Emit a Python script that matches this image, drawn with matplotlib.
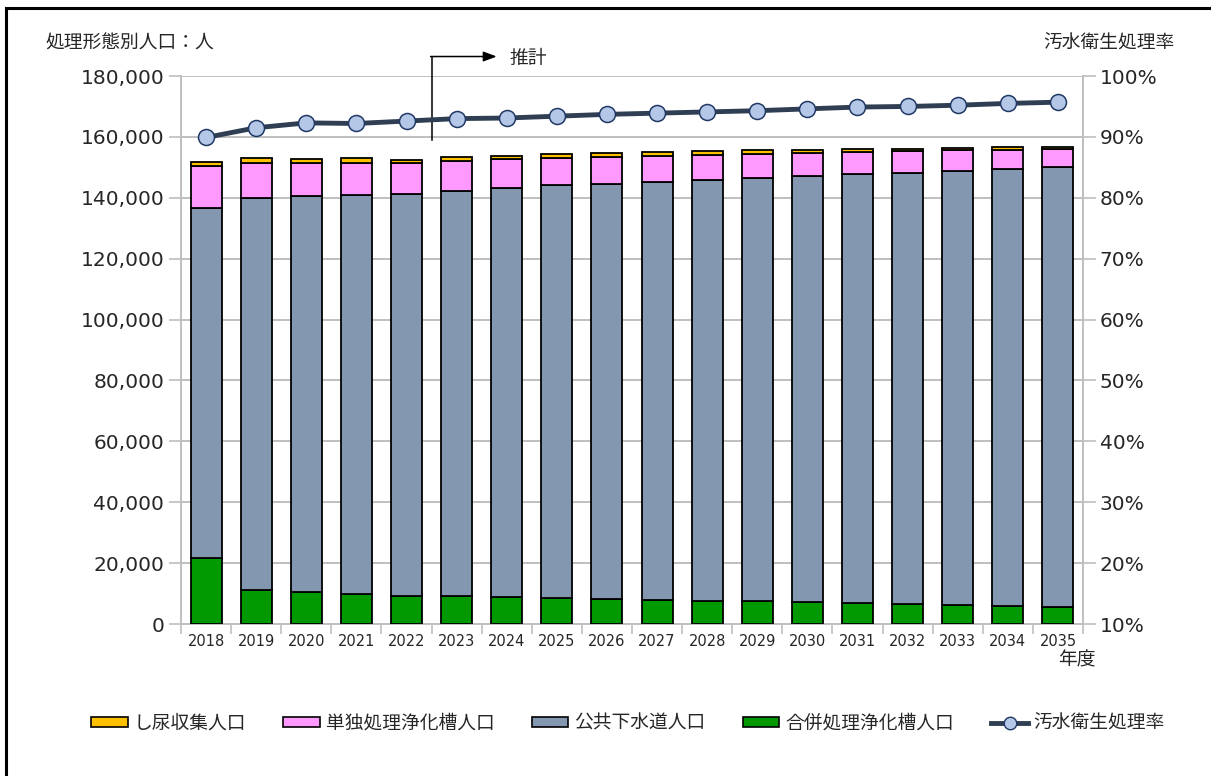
import numpy as np
import matplotlib.pyplot as plt
from matplotlib.patches import Rectangle
from matplotlib.lines import Line2D
from matplotlib.ticker import FuncFormatter

plt.rcParams['font.family'] = ['Noto Sans CJK JP', 'DejaVu Sans']

years = [str(y) for y in range(2018, 2036)]

# 処理形態別人口（人）
gappei = [21600, 11100, 10600, 9850, 9300, 9100, 8850, 8550, 8200, 7900,
          7650, 7450, 7250, 6900, 6550, 6250, 5900, 5600]
gesuido = [114900, 128700, 130000, 131050, 131850, 133150, 134350, 135550, 136400, 137400,
           138200, 139050, 139900, 140800, 141700, 142650, 143650, 144400]
tandoku = [13900, 11500, 10750, 10500, 10200, 9850, 9400, 9050, 8850, 8450,
           8200, 7900, 7550, 7350, 7100, 6700, 6150, 6000]
shinyo = [1450, 1650, 1400, 1550, 1100, 1200, 1100, 1200, 1200, 1200,
          1200, 1200, 1000, 850, 750, 850, 900, 750]

# 汚水衛生処理率（%）
rate = [89.9, 91.5, 92.3, 92.2, 92.6, 93.0, 93.1, 93.4, 93.7, 93.9,
        94.1, 94.3, 94.6, 94.9, 95.0, 95.2, 95.5, 95.7]

c_shinyo = '#FFC000'
c_tandoku = '#FF99FF'
c_gesuido = '#8497B0'
c_gappei = '#009900'
c_line = '#2F3E52'
txt = '#262626'

fig = plt.figure(figsize=(12.11, 7.76), dpi=100)
ax = fig.add_axes([181/1211, 1-624/776, 902/1211, 548/776])

x = np.arange(len(years))
w = 0.62
ekw = dict(edgecolor='black', linewidth=1.3, zorder=3)
b1 = np.array(gappei)
b2 = b1 + np.array(gesuido)
b3 = b2 + np.array(tandoku)
ax.bar(x, gappei, w, color=c_gappei, **ekw)
ax.bar(x, gesuido, w, bottom=b1, color=c_gesuido, **ekw)
ax.bar(x, tandoku, w, bottom=b2, color=c_tandoku, **ekw)
ax.bar(x, shinyo, w, bottom=b3, color=c_shinyo, **ekw)

ax.set_xlim(-0.5, len(years)-0.5)
ax.set_ylim(0, 180000)
ax.set_yticks(np.arange(0, 180001, 20000))
ax.yaxis.set_major_formatter(FuncFormatter(lambda v, p: f'{int(v):,}'))
ax.grid(axis='y', color='#BFBFBF', linewidth=1.4, zorder=0)
ax.set_axisbelow(True)
ax.set_xticks(x)
ax.set_xticklabels(years, fontsize=10.5, color=txt, family='DejaVu Sans')
ax.set_xticks(np.arange(-0.5, len(years), 1), minor=True)
ax.tick_params(axis='x', which='major', length=0, pad=7)
ax.tick_params(axis='x', which='minor', length=7, color='#BFBFBF', width=1.2)
ax.tick_params(axis='y', length=9, color='#BFBFBF', width=1.2, labelsize=14.5,
               labelcolor=txt, pad=3)
for lab in ax.get_yticklabels():
    lab.set_family('DejaVu Sans')
for s in ['left', 'right', 'bottom']:
    ax.spines[s].set_color('#BFBFBF')
    ax.spines[s].set_linewidth(1.4)
ax.spines['top'].set_visible(False)

ax2 = ax.twinx()
ax2.plot(x, rate, color=c_line, linewidth=3.5, marker='o', markersize=11.5,
         markerfacecolor='#B4C7E7', markeredgecolor='#203864', markeredgewidth=1.1,
         zorder=4)
ax2.set_ylim(10, 100)
ax2.set_yticks(np.arange(10, 101, 10))
ax2.yaxis.set_major_formatter(FuncFormatter(lambda v, p: f'{int(v)}%'))
ax2.tick_params(axis='y', length=9, color='#BFBFBF', width=1.2, labelsize=14.5,
                labelcolor=txt, pad=3)
for lab in ax2.get_yticklabels():
    lab.set_family('DejaVu Sans')
for s in ['left', 'right', 'bottom', 'top']:
    ax2.spines[s].set_visible(False)

# 推計の矢印
ax2.plot([4.5, 4.5], [89.5, 103.2], color='black', linewidth=1.1, clip_on=False)
ax2.annotate('', xy=(5.8, 103.2), xytext=(4.48, 103.2),
             arrowprops=dict(arrowstyle='-|>,head_length=0.8,head_width=0.3',
                             color='black', linewidth=1.1, shrinkA=0, shrinkB=0),
             annotation_clip=False)
ax2.text(6.05, 102.8, '推計', fontsize=13.5, color=txt, va='center', ha='left',
         clip_on=False)

fig.text(45/1211, 1-43/776, '処理形態別人口：人', fontsize=13.5, color=txt,
         ha='left', va='center')
fig.text(1175/1211, 1-43/776, '汚水衛生処理率', fontsize=13.5, color=txt,
         ha='right', va='center')
fig.text(1077/1211, 1-660/776, '年度', fontsize=13.5, color=txt,
         ha='center', va='center')

# 外枠
fig.patches.append(Rectangle((6/1211, -0.1), 1.2, 1-8/776+0.1, transform=fig.transFigure,
                             fill=False, edgecolor='black', linewidth=2.2))

handles = [
    Rectangle((0, 0), 1, 1, facecolor=c_shinyo, edgecolor='black', linewidth=1.2),
    Rectangle((0, 0), 1, 1, facecolor=c_tandoku, edgecolor='black', linewidth=1.2),
    Rectangle((0, 0), 1, 1, facecolor=c_gesuido, edgecolor='black', linewidth=1.2),
    Rectangle((0, 0), 1, 1, facecolor=c_gappei, edgecolor='black', linewidth=1.2),
    Line2D([], [], color=c_line, linewidth=3.5, marker='o', markersize=9,
           markerfacecolor='#B4C7E7', markeredgecolor='#203864'),
]
labels = ['し尿収集人口', '単独処理浄化槽人口', '公共下水道人口', '合併処理浄化槽人口', '汚水衛生処理率']
leg = fig.legend(handles, labels, ncol=5, loc='center', bbox_to_anchor=(628/1211, 1-723/776),
                 frameon=False, fontsize=13.5, handlelength=1.95, handleheight=0.5,
                 handletextpad=0.3, columnspacing=2.0, labelcolor=txt)

fig.savefig('out.png', dpi=100)
